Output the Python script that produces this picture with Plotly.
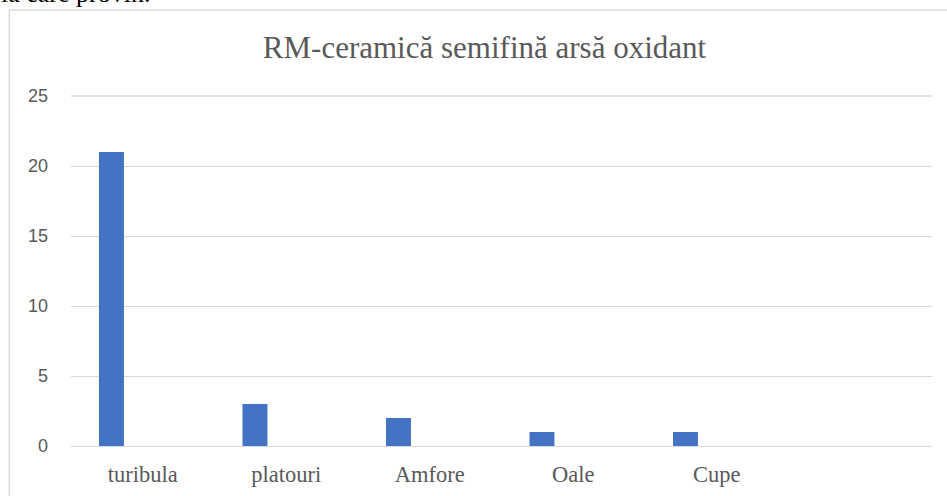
import plotly.graph_objects as go

categories = ["turibula", "platouri", "Amfore", "Oale", "Cupe", " "]
values = [21, 3, 2, 1, 1, None]
y_ticks = [0, 5, 10, 15, 20, 25]
title_text = "RM-ceramică semifină arsă oxidant"
page_text = "la care provin."

W, H = 947, 496
L, R, T, B = 70.7, 15, 96, 50
plot_w = W - L - R
plot_h = H - T - B

fig = go.Figure()
fig.add_trace(go.Bar(
    x=categories, y=values,
    marker=dict(color="#4472C4", line=dict(width=0)),
    width=0.174, offset=-0.305,
    hoverinfo="skip",
))

def px_x(p):
    return (p - L) / plot_w

def px_y(p):
    return (H - B - p) / plot_h

fig.update_layout(
    width=W, height=H,
    margin=dict(l=L, r=R, t=T, b=B, pad=0, autoexpand=False),
    paper_bgcolor="white", plot_bgcolor="white",
    showlegend=False,
    title=dict(text=title_text, xref="container", x=484.5 / W, xanchor="center",
               yref="container", y=1 - 47 / H, yanchor="middle",
               font=dict(family="Liberation Serif", size=31, color="#595959")),
    xaxis=dict(type="category", categoryorder="array", categoryarray=categories,
               range=[-0.5, 5.5], showgrid=False, showline=False, zeroline=False,
               ticks="", ticklabelstandoff=12, automargin=False,
               tickfont=dict(family="Liberation Serif", size=22.5, color="#595959")),
    yaxis=dict(range=[0, 25], tickvals=y_ticks, showgrid=True, gridcolor="#d9d9d9",
               gridwidth=1.3, zeroline=True, zerolinecolor="#d9d9d9", zerolinewidth=1.3,
               showline=False, ticks="", ticklabelstandoff=22, automargin=False,
               tickfont=dict(family="Liberation Sans", size=18, color="#595959")),
    shapes=[
        dict(type="line", xref="paper", yref="paper",
             x0=px_x(9), x1=px_x(9), y0=px_y(10), y1=px_y(H + 5),
             line=dict(color="#d9d9d9", width=1.3)),
        dict(type="line", xref="paper", yref="paper",
             x0=px_x(9), x1=px_x(W + 5), y0=px_y(10), y1=px_y(10),
             line=dict(color="#d9d9d9", width=1.3)),
        dict(type="line", xref="paper", yref="paper",
             x0=0, x1=1, y0=1, y1=1,
             line=dict(color="#d9d9d9", width=1.3)),
    ],
    annotations=[
        dict(text=page_text, xref="paper", yref="paper",
             x=px_x(-1), y=px_y(-7), xanchor="left", yanchor="middle",
             showarrow=False,
             font=dict(family="Liberation Serif", size=26, color="black")),
    ],
)

fig.write_html("out.html", config={"displayModeBar": False},
               post_script="document.body.style.margin='0';document.body.style.overflow='hidden';")
